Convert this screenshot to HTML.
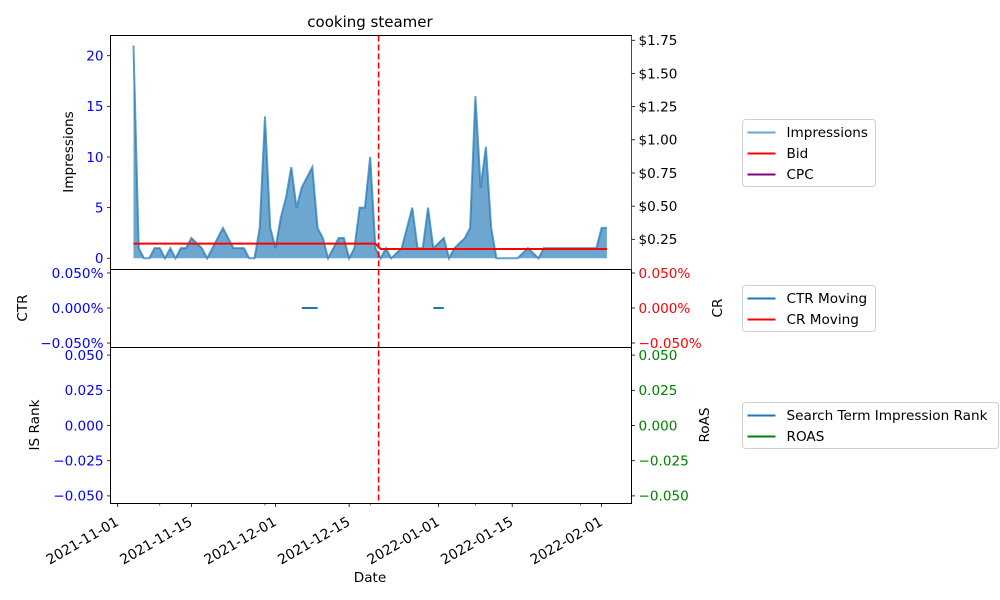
<!DOCTYPE html>
<html><head><meta charset="utf-8"><style>
html,body{margin:0;padding:0;background:#fff;}
svg{display:block;font-family:"DejaVu Sans","Liberation Sans",sans-serif;}
</style></head><body>
<svg id="chart" width="1000" height="600" viewBox="0 0 1000 600" xmlns="http://www.w3.org/2000/svg"></svg>
<script>
// ---- data ----
const startDay = 3; // days after 2021-11-01 for first point (2021-11-04)
const impressions = [21,1,0,0,1,1,0,1,0,1,1,2,1.5,1,0,1,2,3,2,1,1,1,0,0,3,14,3,1,4,6,9,5,7,8,9,3,2,0,1,2,2,0,1,5,5,10,1,0,1,0,0.5,1,3,5,1,1,5,1,1.5,2,0,1,1.5,2,3,16,7,11,3,0,0,0,0,0,0.5,1,0.5,0,1,1,1,1,1,1,1,1,1,1,1,3,3];
const bid = impressions.map((v,i)=> i<47 ? 0.217 : 0.177);
const ctrMoving = impressions.map((v,i)=> ((i>=32&&i<=35)||(i>=57&&i<=59)) ? 0 : null);
const xTickDays = [0,14,30,44,61,75,92];
const xTickLabels = ["2021-11-01","2021-11-15","2021-12-01","2021-12-15","2022-01-01","2022-01-15","2022-02-01"];
const xMinorDays = [8,28,48,68,88];
const impTicks = [0,5,10,15,20];
const bidTicks = [0.25,0.5,0.75,1.0,1.25,1.5,1.75];
const pctTicks = [-0.05,0,0.05];
const rankTicks = [-0.05,-0.025,0,0.025,0.05];
const eventDay = 49.6;

// ---- layout ----
const L=110.5,R=631.5,T1=35.5,B1=269.5,T2=269.5,B2=347.5,T3=347.5,B3=503.5;
const FS=13.6;
const xs = d => 117.7 + d*5.26;
const y1 = v => 258.3 - v*10.13;
const yBid = v => 239.3 - (v-0.25)*132.67;
const y2 = v => 308 - v*700;
const y3 = v => 425.5 - v*1408;

const svg=document.getElementById('chart');
const NS='http://www.w3.org/2000/svg';
function el(tag,attrs,parent){const e=document.createElementNS(NS,tag);for(const k in attrs)e.setAttribute(k,attrs[k]);(parent||svg).appendChild(e);return e;}
function txt(s,attrs,parent){const e=el('text',attrs,parent);e.textContent=s;return e;}

let t=txt('cooking steamer',{x:370,y:27,'text-anchor':'middle','font-size':15,fill:'#000'});



const pts=impressions.map((v,i)=>[xs(startDay+i),y1(v)]);
let d='M'+pts[0][0]+','+y1(0)+' '+pts.map(p=>'L'+p[0]+','+p[1]).join(' ')+' L'+pts[pts.length-1][0]+','+y1(0)+'Z';
let area=el('path',{d:d,fill:'rgba(31,119,180,0.65)',stroke:'none'});


let line=el('polyline',{points:pts.map(p=>p.join(',')).join(' '),fill:'none',stroke:'rgba(31,119,180,0.7)','stroke-width':2});



let bl=el('polyline',{points:bid.map((v,i)=>xs(startDay+i)+','+yBid(v)).join(' '),fill:'none',stroke:'#ff0000','stroke-width':2});



let seg=[];
function flush(){ if(seg.length){ let p=el('polyline',{points:seg.join(' '),fill:'none',stroke:'#1f77b4','stroke-width':2});
 
 
 seg=[];}}
ctrMoving.forEach((v,i)=>{ if(v===null) flush(); else seg.push(xs(startDay+i)+','+y2(v)); }); flush();

[[T1,B1,'top-panel-frame'],[T2,B2,'middle-panel-frame'],[T3,B3,'bottom-panel-frame']].forEach(a=>{
 let r=el('rect',{x:L,y:a[0],width:R-L,height:a[1]-a[0],fill:'none',stroke:'#000','stroke-width':1});
 
 
});
let rs=el('line',{x1:R,y1:T1,x2:R,y2:B1,stroke:'#ff0000','stroke-width':1});



let ev=el('line',{x1:xs(eventDay),y1:T1,x2:xs(eventDay),y2:B3,stroke:'#ff0000','stroke-width':1.6,'stroke-dasharray':'6,3'});



function ytick(y,label,side,color,name){
 const x0 = side==='l'?L:R;
 el('line',{x1:x0,y1:y,x2:side==='l'?x0-3.5:x0+3.5,y2:y,stroke:'#000','stroke-width':0.8});
 let tt=txt(label,{x:side==='l'?x0-7:x0+7,y:y+4.8,'text-anchor':side==='l'?'end':'start','font-size':FS,fill:color});
 
 
}
impTicks.forEach(v=>ytick(y1(v),String(v),'l','#0000ff','impressions-tick'));
bidTicks.forEach(v=>ytick(yBid(v),'$'+v.toFixed(2),'r','#000','bid-tick'));
pctTicks.forEach(v=>{const s=(v<0?'\u22120.050%':v===0?'0.000%':'0.050%');ytick(y2(v),s,'l','#0000ff','ctr-tick');ytick(y2(v),s,'r','#ff0000','cr-tick');});
rankTicks.forEach(v=>{const s=(v<0?'\u2212':'')+Math.abs(v).toFixed(3);ytick(y3(v),s,'l','#0000ff','rank-tick');ytick(y3(v),s,'r','#008000','roas-tick');});

xTickDays.forEach((dd,i)=>{
 const x=xs(dd);
 el('line',{x1:x,y1:B3,x2:x,y2:B3+3.5,stroke:'#000','stroke-width':0.8});
 const px=x+2, py=B3+21;
 let tt=txt(xTickLabels[i],{x:px,y:py,'text-anchor':'end','font-size':13.9,fill:'#000',transform:'rotate(-30 '+px+' '+py+')'});
 
 
});
xMinorDays.forEach(dd=>{el('line',{x1:xs(dd),y1:B3,x2:xs(dd),y2:B3+2,stroke:'#000','stroke-width':0.6});});

function lab(s,x,y,rot,name){let a={x:x,y:y,'text-anchor':'middle','font-size':FS,fill:'#000'};if(rot)a.transform='rotate(-90 '+x+' '+y+')';let e=txt(s,a);
 
 }
lab('Impressions',73,152,true,'impressions-axis-title');
lab('CTR',27,308,true,'ctr-axis-title');
lab('IS Rank',39,425,true,'rank-axis-title');
lab('CR',722,308,true,'cr-axis-title');
lab('RoAS',709,425,true,'roas-axis-title');
lab('Date',370,582,false,'x-axis-title');

function legend(x,y,w,entries,name){
 const g=el('g',{});
 
 
 el('rect',{x:x,y:y,width:w,height:entries.length*21+4,rx:3,fill:'#fff',stroke:'#d0d0d0','stroke-width':1},g);
 entries.forEach((e,i)=>{
  const cy=y+13+i*21;
  el('line',{x1:x+5,y1:cy,x2:x+33,y2:cy,stroke:e[1],'stroke-width':2},g);
  let tt=txt(e[0],{x:x+44,y:cy+4.7,'font-size':FS,fill:'#000'},g);
  
  
 });
}
legend(742.5,119.5,133,[['Impressions','rgba(31,119,180,0.65)'],['Bid','#ff0000'],['CPC','#800080']],'legend-top');
legend(742.5,285.5,133,[['CTR Moving','#1f77b4'],['CR Moving','#ff0000']],'legend-middle');
legend(742.5,402.5,256,[['Search Term Impression Rank','#1f77b4'],['ROAS','#008000']],'legend-bottom');
</script>
</body></html>
